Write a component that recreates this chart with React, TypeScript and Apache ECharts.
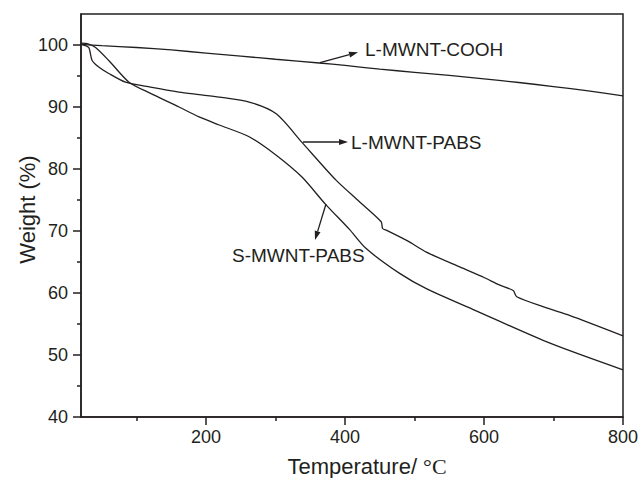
import React, { useEffect, useRef } from "react";
import * as echarts from "echarts";

// L-MWNT-COOH
const coohTemp = [20, 50, 100, 150, 200, 250, 300, 363, 400, 450, 500, 550, 600, 650, 700, 750, 800];
const coohWeight = [100.1, 99.9, 99.6, 99.2, 98.7, 98.2, 97.7, 97.1, 96.7, 96.1, 95.6, 95.1, 94.55, 93.95, 93.3, 92.6, 91.8];

// L-MWNT-PABS
const lPabsTemp = [20, 31, 36, 46, 60, 84, 120, 161, 190, 219, 262, 301, 338, 387, 420, 452, 454, 460, 490, 517, 565, 600, 622, 642, 647, 690, 723, 800];
const lPabsWeight = [100.1, 99.6, 97.5, 96.4, 95.4, 94.0, 93.2, 92.4, 92.0, 91.6, 90.8, 88.9, 84.3, 78.2, 74.8, 71.5, 70.4, 70.1, 68.4, 66.6, 64.2, 62.5, 61.3, 60.4, 59.4, 57.6, 56.4, 53.1];

// S-MWNT-PABS
const sPabsTemp = [20, 30, 41, 60, 89, 120, 161, 190, 219, 262, 300, 338, 372, 406, 430, 478, 517, 587, 695, 800];
const sPabsWeight = [100.3, 100.2, 99.6, 97.5, 94.0, 92.2, 90.0, 88.4, 87.1, 85.2, 82.3, 78.7, 74.3, 70.3, 67.2, 63.2, 60.7, 57.2, 51.9, 47.6];

const xMajorTicks = [200, 400, 600, 800];
const xMinorTicks = [100, 300, 500, 700];
const yMajorTicks = [40, 50, 60, 70, 80, 90, 100];
const yMinorTicks = [45, 55, 65, 75, 85, 95];

const INK = "#231f20";
const SANS = "'Liberation Sans', Arial, sans-serif";

function zip(xs: number[], ys: number[]) {
  return xs.map((x, i) => [x, ys[i]]);
}

function arrow(x1: number, y1: number, x2: number, y2: number) {
  const dx = x2 - x1;
  const dy = y2 - y1;
  const len = Math.sqrt(dx * dx + dy * dy);
  const ux = dx / len;
  const uy = dy / len;
  const hl = 9;
  const hw = 3;
  const bx = x2 - ux * hl;
  const by = y2 - uy * hl;
  return [
    {
      type: "line",
      shape: { x1, y1, x2: bx, y2: by },
      style: { stroke: INK, lineWidth: 1.3 },
      silent: true,
    },
    {
      type: "polygon",
      shape: {
        points: [
          [x2, y2],
          [bx - uy * hw, by + ux * hw],
          [bx + uy * hw, by - ux * hw],
        ],
      },
      style: { fill: INK },
      silent: true,
    },
  ];
}

function label(text: string, x: number, y: number) {
  return {
    type: "text",
    x,
    y,
    style: {
      text,
      fill: INK,
      font: `19px ${SANS}`,
      textAlign: "left",
      textVerticalAlign: "middle",
    },
    silent: true,
  };
}

export default function App() {
  const ref = useRef<HTMLDivElement>(null);

  useEffect(() => {
    if (!ref.current) return;
    const chart = echarts.init(ref.current, undefined, { renderer: "svg" });
    const axisLineStyle = { color: INK, width: 1.5 };
    const lineSeries = (name: string, data: number[][]) => ({
      name,
      type: "line",
      data,
      showSymbol: false,
      smooth: 0.25,
      xAxisIndex: 0,
      yAxisIndex: 0,
      lineStyle: { color: INK, width: 1.3 },
    });
    chart.setOption({
      animation: false,
      backgroundColor: "#fff",
      grid: {
        left: 81,
        right: 17,
        top: 14,
        bottom: 61,
        show: true,
        borderColor: INK,
        borderWidth: 1.5,
        backgroundColor: "transparent",
        containLabel: false,
        outerBoundsMode: "none",
      },
      xAxis: [
        {
          type: "value",
          min: 20,
          max: 800,
          position: "bottom",
          name: "{a|Temperature/ }{b|°C}",
          nameLocation: "middle",
          nameGap: 38,
          nameMoveOverlap: false,
          nameTextStyle: {
            padding: [0, 0, 0, 30],
            rich: {
              a: { fontSize: 22, fontFamily: SANS, color: INK },
              b: { fontSize: 22, fontFamily: "'Liberation Serif', 'Times New Roman', serif", color: INK },
            },
          },
          axisLine: { show: true, onZero: false, lineStyle: axisLineStyle },
          axisTick: { show: true, inside: false, length: 8, customValues: xMajorTicks, lineStyle: axisLineStyle },
          axisLabel: { customValues: xMajorTicks, fontSize: 18, fontFamily: SANS, color: INK, margin: 11 },
          splitLine: { show: false },
        },
        {
          type: "value",
          min: 20,
          max: 800,
          position: "bottom",
          axisLine: { show: false },
          axisTick: { show: true, inside: false, length: 4, customValues: xMinorTicks, lineStyle: axisLineStyle },
          axisLabel: { show: false },
          splitLine: { show: false },
        },
      ],
      yAxis: [
        {
          type: "value",
          min: 40,
          max: 105,
          position: "left",
          name: "Weight (%)",
          nameLocation: "middle",
          nameGap: 43,
          nameMoveOverlap: false,
          nameTextStyle: { fontSize: 22, fontFamily: SANS, color: INK, padding: [0, 0, 0, 12] },
          axisLine: { show: true, onZero: false, lineStyle: axisLineStyle },
          axisTick: { show: true, inside: false, length: 8, customValues: yMajorTicks, lineStyle: axisLineStyle },
          axisLabel: { customValues: yMajorTicks, fontSize: 18, fontFamily: SANS, color: INK, margin: 13 },
          splitLine: { show: false },
        },
        {
          type: "value",
          min: 40,
          max: 105,
          position: "left",
          axisLine: { show: false },
          axisTick: { show: true, inside: false, length: 4, customValues: yMinorTicks, lineStyle: axisLineStyle },
          axisLabel: { show: false },
          splitLine: { show: false },
        },
      ],
      series: [
        lineSeries("L-MWNT-COOH", zip(coohTemp, coohWeight)),
        lineSeries("L-MWNT-PABS", zip(lPabsTemp, lPabsWeight)),
        lineSeries("S-MWNT-PABS", zip(sPabsTemp, sPabsWeight)),
      ],
      graphic: [
        ...arrow(320, 62.7, 358, 52.3),
        label("L-MWNT-COOH", 365, 49.5),
        ...arrow(303, 142, 348, 142),
        label("L-MWNT-PABS", 351, 142.5),
        ...arrow(326, 204, 315, 240),
        label("S-MWNT-PABS", 232, 255),
      ],
    });
    return () => chart.dispose();
  }, []);

  return (
    <div
      ref={ref}
      style={{ position: "fixed", left: 0, top: 0, width: 640, height: 478, background: "#fff" }}
    />
  );
}
